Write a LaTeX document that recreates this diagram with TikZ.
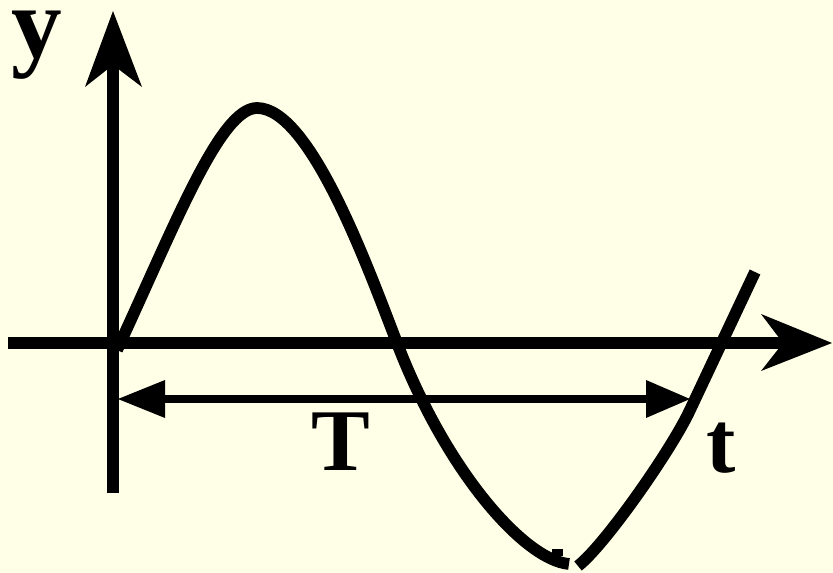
\documentclass[tikz,border=0pt]{standalone}
\usepackage{fontspec}
\setmainfont{Liberation Serif}
\definecolor{bgyellow}{RGB}{255,255,232}
\begin{document}
\begin{tikzpicture}[x=0.75pt,y=-0.75pt,
  axisline/.style={line width=8.8pt},
  waveline/.style={line width=8.8pt, line join=round},
  spanline/.style={line width=6pt},
  headfill/.style={fill=black},
  lbl/.style={inner sep=0pt, anchor=base, font=\fontsize{66}{66}\bfseries\selectfont}]
\fill[bgyellow] (0,0) rectangle (833,573);
\useasboundingbox (0,0) rectangle (833,573);
% vertical axis
\draw[axisline] (113,493) -- (113,60);
\fill[headfill] (113,11) -- (142,87) -- (113,65) -- (85,87) -- cycle;
% horizontal axis
\draw[axisline] (8,343) -- (788,343);
\fill[headfill] (832,343) -- (761,371) -- (783,343) -- (761,314) -- cycle;
% period arrow
\draw[spanline] (160,399) -- (650,399);
\fill[headfill] (118,399) -- (165,380) -- (165,418) -- cycle;
\fill[headfill] (690,399) -- (646,380) -- (646,418) -- cycle;
% wave
\draw[waveline] (117,350) .. controls (175,225) and (220,108) .. (257,108)
  .. controls (310,108) and (367,265) .. (397,343)
  .. controls (447,473) and (525,560) .. (569,564);
\draw[waveline] (578,566) .. controls (605,545) and (672,449) .. (690,410) -- (755,272);
\fill[headfill] (552,549) rectangle (563,556);
% labels
\node[lbl, font=\fontsize{76}{76}\bfseries\selectfont] (ylabel) at (37,58) {y};
\node[lbl] (Tlabel) at (341,471) {T};
\node[lbl] (tlabel) at (721,473) {t};
\end{tikzpicture}
\end{document}
